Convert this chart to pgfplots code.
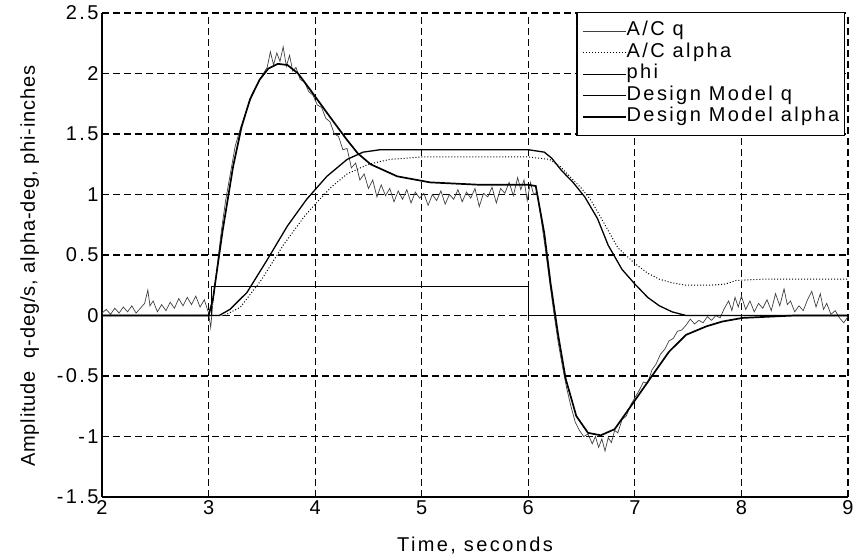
\documentclass[border=0pt]{standalone}
\usepackage{pgfplots}
\pgfplotsset{compat=1.18}
\usepackage{fontspec}
\setmainfont{Liberation Sans}[LetterSpace=12]
\newfontfamily\ylabfont{Liberation Sans}[LetterSpace=4.4]

\newcommand{\figfont}{\fontsize{20bp}{23bp}\selectfont}

\begin{document}
\begin{tikzpicture}
\begin{axis}[
    name=ax,
    scale only axis,
    width=746bp, height=484bp,
    xmin=2, xmax=9,
    ymin=-1.5, ymax=2.5,
    xtick={2,3,4,5,6,7,8,9},
    ytick={-1.5,-1,-0.5,0,0.5,1,1.5,2,2.5},
    /pgf/number format/assume math mode=true,
    tick label style={font=\figfont},
    label style={font=\figfont},
    major tick length=0pt,
    axis x line=bottom, axis y line=left,
    axis line style={-, line width=1.6bp},
    grid=major,
    major grid style={black, line width=1.2bp, dash pattern=on 7bp off 4bp},
    xlabel={Time, seconds},
    ylabel={Amplitude\ \ q-deg/s, alpha-deg, phi-inches},
    xlabel style={at={(axis description cs:0.5,-0.1)}, anchor=center},
    ylabel style={at={(axis description cs:-0.097,0.477)}, anchor=center,
        font=\ylabfont\figfont},
    legend cell align=left,
    legend style={at={(rel axis cs:0.996,1.002)}, anchor=north east,
        font=\figfont, draw=black, line width=1.2bp, fill=white,
        inner xsep=5bp, inner ysep=9bp, row sep=2.5bp,
        nodes={inner sep=0bp, text height=14bp, text depth=5bp}},
    legend image code/.code={\draw[#1] (0bp,0bp) -- (43bp,0bp);},
]

% A/C q
\addplot[black!75, line width=0.7bp] coordinates {
(2.00,0.02) (2.04,0.05) (2.08,0.01) (2.12,0.06) (2.16,0.02) (2.20,0.07)
(2.24,0.03) (2.28,0.08) (2.32,0.02) (2.36,0.06) (2.40,0.10) (2.43,0.21)
(2.45,0.08) (2.48,0.12) (2.52,0.03) (2.56,0.09) (2.60,0.04) (2.64,0.11)
(2.68,0.06) (2.72,0.14) (2.76,0.08) (2.80,0.15) (2.84,0.09) (2.88,0.16)
(2.92,0.07) (2.96,0.13) (3.00,0.02) (3.02,-0.10) (3.04,0.10) (3.08,0.40)
(3.12,0.70) (3.16,0.95) (3.20,1.15) (3.25,1.40) (3.30,1.55) (3.35,1.68)
(3.40,1.80) (3.45,1.90) (3.50,1.98) (3.55,2.05) (3.58,2.18) (3.61,2.07)
(3.64,2.17) (3.67,2.10) (3.70,2.22) (3.73,2.06) (3.76,2.15) (3.79,2.02)
(3.82,2.05) (3.86,1.95) (3.90,1.93) (3.94,1.85) (3.98,1.82) (4.02,1.74)
(4.06,1.72) (4.10,1.63) (4.14,1.60) (4.18,1.50) (4.22,1.48) (4.26,1.37)
(4.30,1.38) (4.34,1.22) (4.38,1.26) (4.42,1.12) (4.46,1.17) (4.50,1.05)
(4.54,1.12) (4.58,0.98) (4.62,1.08) (4.66,0.99) (4.70,1.05) (4.74,0.94)
(4.78,1.03) (4.82,0.96) (4.86,1.04) (4.90,0.93) (4.94,1.02) (4.98,0.97)
(5.02,1.01) (5.06,0.91) (5.10,1.00) (5.14,0.95) (5.18,1.03) (5.22,0.92)
(5.26,1.00) (5.30,0.96) (5.34,1.04) (5.38,0.94) (5.42,1.02) (5.46,0.97)
(5.50,1.05) (5.54,0.90) (5.58,1.01) (5.62,0.98) (5.66,1.06) (5.70,0.93)
(5.74,1.05) (5.78,1.01) (5.82,1.10) (5.86,0.99) (5.90,1.14) (5.93,1.04)
(5.96,1.12) (5.99,0.95) (6.02,1.10) (6.05,1.00) (6.08,1.02) (6.12,0.80)
(6.16,0.55) (6.20,0.28) (6.24,0.02) (6.28,-0.22) (6.32,-0.42) (6.36,-0.60)
(6.40,-0.75) (6.44,-0.88) (6.48,-0.95) (6.52,-1.00) (6.56,-0.98) (6.60,-1.06)
(6.63,-1.00) (6.66,-1.09) (6.69,-1.02) (6.72,-1.12) (6.75,-1.01) (6.78,-1.05)
(6.81,-0.95) (6.84,-0.97) (6.88,-0.86) (6.92,-0.83) (6.96,-0.74) (7.00,-0.68)
(7.04,-0.62) (7.08,-0.55) (7.12,-0.56) (7.16,-0.45) (7.20,-0.40) (7.24,-0.32)
(7.28,-0.28) (7.32,-0.21) (7.36,-0.19) (7.40,-0.13) (7.44,-0.12) (7.48,-0.08)
(7.52,-0.03) (7.56,-0.07) (7.60,-0.04) (7.64,-0.06) (7.68,-0.01) (7.72,-0.04)
(7.76,0.00) (7.80,-0.02) (7.84,0.06) (7.88,0.12) (7.91,0.04) (7.94,0.15)
(7.97,0.07) (8.00,0.16) (8.04,0.05) (8.08,0.12) (8.12,0.03) (8.16,0.10)
(8.20,0.06) (8.24,0.13) (8.28,0.04) (8.32,0.18) (8.36,0.08) (8.40,0.22)
(8.43,0.09) (8.46,0.12) (8.50,0.03) (8.54,0.08) (8.58,0.04) (8.62,0.13)
(8.66,0.20) (8.70,0.07) (8.74,0.18) (8.77,0.05) (8.80,0.10) (8.84,0.01)
(8.88,0.04) (8.92,-0.02) (8.96,-0.06) (9.00,-0.01)
};
\addlegendentry{A/C q}

% A/C alpha
\addplot[black, line width=1bp, dotted] coordinates {
(2.00,0) (3.15,0) (3.30,0.07) (3.50,0.30) (3.70,0.58) (3.90,0.82)
(4.00,0.92) (4.15,1.06) (4.30,1.17) (4.50,1.25) (4.70,1.29) (5.00,1.31)
(5.50,1.31) (6.00,1.31) (6.20,1.29) (6.30,1.23) (6.40,1.14) (6.50,1.05)
(6.59,0.95) (6.70,0.78) (6.84,0.56) (7.00,0.43) (7.12,0.35) (7.23,0.30)
(7.35,0.27) (7.48,0.25) (7.70,0.25) (7.85,0.26) (7.95,0.29) (8.20,0.30)
(9.00,0.30)
};
\addlegendentry{A/C alpha}

% phi
\addplot[black, line width=0.9bp] coordinates {
(2.00,0) (3.03,0) (3.03,0.24) (6.00,0.24) (6.00,0) (9.00,0)
};
\addlegendentry{phi}

% Design Model q
\addplot[black, line width=1.7bp] coordinates {
(2.00,0) (3.00,0) (3.04,0.13) (3.13,0.69) (3.23,1.23) (3.31,1.56)
(3.39,1.79) (3.48,1.95) (3.56,2.04) (3.65,2.08) (3.74,2.07) (3.84,2.00)
(3.95,1.87) (4.14,1.64) (4.30,1.45) (4.40,1.34) (4.52,1.25) (4.77,1.15)
(5.08,1.10) (5.55,1.08) (6.00,1.08) (6.07,1.07) (6.15,0.68) (6.21,0.26)
(6.28,-0.16) (6.35,-0.52) (6.45,-0.83) (6.56,-0.97) (6.68,-0.99)
(6.81,-0.94) (6.97,-0.74) (7.16,-0.50) (7.32,-0.30) (7.48,-0.16)
(7.67,-0.09) (7.82,-0.05) (8.01,-0.02) (8.50,0) (9.00,0)
};
\addlegendentry{Design Model q}

% Design Model alpha
\addplot[black, line width=1.3bp] coordinates {
(2.00,0) (3.10,0) (3.20,0.05) (3.36,0.19) (3.55,0.46) (3.74,0.74)
(3.92,0.96) (4.11,1.15) (4.30,1.29) (4.45,1.35) (4.61,1.37) (5.00,1.37)
(6.00,1.37) (6.15,1.35) (6.22,1.30) (6.31,1.20) (6.42,1.10) (6.53,0.98)
(6.65,0.80) (6.75,0.58) (6.88,0.38) (7.00,0.26) (7.12,0.15) (7.23,0.08)
(7.35,0.03) (7.48,0) (9.00,0)
};
\addlegendentry{Design Model alpha}

\end{axis}
\pgfresetboundingbox
\path[use as bounding box] ([xshift=-102bp,yshift=-63bp]ax.south west)
    rectangle ([xshift=11bp,yshift=13bp]ax.north east);
\end{tikzpicture}
\end{document}
